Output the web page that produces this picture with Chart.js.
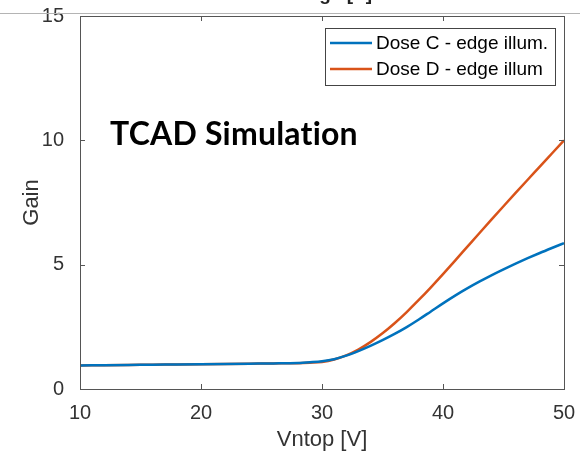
<!DOCTYPE html>
<html><head><meta charset="utf-8">
<script src="https://cdn.jsdelivr.net/npm/chart.js@4.4.1/dist/chart.umd.min.js"></script>
<style>html,body{margin:0;padding:0;background:#fff}#wrap{width:580px;height:452px}</style>
</head><body><div id="wrap"><canvas id="c" width="580" height="452"></canvas></div>
<script>
// ---- data ----
const vntop = [10,12,14,16,18,20,22,24,26,28,29,30,31,32,33,34,35,36,37,38,39,40,41,42,43,44,45,46,47,48,49,50];
const doseC = [0.95,0.96,0.97,0.98,0.99,1.00,1.01,1.02,1.03,1.05,1.08,1.12,1.20,1.34,1.525,1.735,1.965,2.215,2.49,2.795,3.12,3.445,3.755,4.045,4.315,4.57,4.81,5.04,5.26,5.47,5.67,5.865];
const doseD = [0.95,0.96,0.97,0.98,0.99,1.00,1.01,1.02,1.03,1.04,1.06,1.09,1.185,1.35,1.585,1.885,2.24,2.645,3.095,3.58,4.09,4.62,5.165,5.715,6.265,6.81,7.35,7.885,8.415,8.94,9.47,10.00];
const seriesNames = ['Dose C - edge illum.', 'Dose D - edge illum'];
const xTicks = [10,20,30,40,50];
const yTicks = [0,5,10,15];
const xTitle = 'Vntop [V]';
const yTitle = 'Gain';
const annotationText = 'TCAD Simulation';
const topTitle = 'Gain vs Voltage [V]';

const colors = ['#0072BD', '#D95319'];
const tickColor = '#333333';
const fam = '"Liberation Sans", Arial, sans-serif';

const frame = {
  id: 'frame',
  afterDraw(chart) {
    const ctx = chart.ctx, a = chart.chartArea;
    const xs = chart.scales.x, ys = chart.scales.y;
    ctx.save();
    // slide artefacts: cut-off title and a thin rule
    ctx.fillStyle = '#222';
    ctx.font = 'bold 19px ' + fam;
    ctx.textAlign = 'right'; ctx.textBaseline = 'alphabetic';
    ctx.fillText(topTitle, 372, 0);
    ctx.strokeStyle = '#b4b4b4'; ctx.lineWidth = 1;
    ctx.beginPath(); ctx.moveTo(0, 13.5); ctx.lineTo(chart.width, 13.5); ctx.stroke();
    // axes box
    ctx.strokeStyle = '#555'; ctx.lineWidth = 1;
    ctx.strokeRect(Math.round(a.left)+0.5, Math.round(a.top)+0.5, Math.round(a.right-a.left), Math.round(a.bottom-a.top));
    const tl = 5;
    ctx.beginPath();
    xs.ticks.forEach(t => {
      const px = Math.round(xs.getPixelForValue(t.value)) + 0.5;
      ctx.moveTo(px, a.bottom); ctx.lineTo(px, a.bottom - tl);
      ctx.moveTo(px, a.top); ctx.lineTo(px, a.top + tl);
    });
    ys.ticks.forEach(t => {
      const py = Math.round(ys.getPixelForValue(t.value)) + 0.5;
      ctx.moveTo(a.left, py); ctx.lineTo(a.left + tl, py);
      ctx.moveTo(a.right, py); ctx.lineTo(a.right - tl, py);
    });
    ctx.stroke();
    // annotation
    ctx.fillStyle = '#000';
    ctx.font = 'bold 32px Lato, "Open Sans", sans-serif';
    try { ctx.letterSpacing = '0.2px'; } catch (e) {}
    ctx.textAlign = 'left'; ctx.textBaseline = 'alphabetic';
    ctx.fillText(annotationText, 110, 145);
    try { ctx.letterSpacing = '0px'; } catch (e) {}
    // legend
    const lx = 325, ly = 28, lw = 230, lh = 57;
    ctx.fillStyle = '#fff';
    ctx.fillRect(lx, ly, lw, lh);
    ctx.strokeStyle = '#444'; ctx.lineWidth = 1;
    ctx.strokeRect(lx + 0.5, ly + 0.5, lw, lh);
    ctx.font = '19px ' + fam;
    ctx.textBaseline = 'middle';
    chart.data.datasets.forEach((ds, i) => {
      const y = ly + 15 + i * 26;
      ctx.strokeStyle = ds.borderColor; ctx.lineWidth = 2.5;
      ctx.beginPath(); ctx.moveTo(lx + 5, y); ctx.lineTo(lx + 47, y); ctx.stroke();
      ctx.fillStyle = '#000';
      ctx.fillText(ds.label, lx + 51, y + 1);
    });
    ctx.restore();
  }
};

const mk = (ys) => vntop.map((v, i) => ({x: v, y: ys[i]}));
const zeroPad = s => { s.paddingLeft = 0; s.paddingRight = 0; s.paddingTop = 0; s.paddingBottom = 0; };

new Chart(document.getElementById('c'), {
  type: 'line',
  data: {
    datasets: [
      {label: seriesNames[0], data: mk(doseC), borderColor: colors[0], borderWidth: 2.5, pointRadius: 0, cubicInterpolationMode: 'monotone', fill: false},
      {label: seriesNames[1], data: mk(doseD), borderColor: colors[1], borderWidth: 2.5, pointRadius: 0, cubicInterpolationMode: 'monotone', fill: false}
    ]
  },
  options: {
    responsive: false, animation: false, devicePixelRatio: 1,
    layout: {padding: {left: 0, right: 16, top: 16, bottom: 0}},
    plugins: {legend: {display: false}, tooltip: {enabled: false}, title: {display: false}},
    scales: {
      x: {
        type: 'linear', min: 10, max: 50,
        afterBuildTicks: s => { s.ticks = xTicks.map(v => ({value: v})); },
        afterFit: s => { s.height = 63; zeroPad(s); },
        grid: {display: false, drawTicks: false}, border: {display: false},
        ticks: {color: tickColor, font: {size: 20, family: fam}, padding: 12, maxRotation: 0},
        title: {display: true, text: xTitle, color: tickColor, font: {size: 22, family: fam, lineHeight: 1}, padding: {top: 0, bottom: 1}}
      },
      y: {
        type: 'linear', min: 0, max: 15,
        afterBuildTicks: s => { s.ticks = yTicks.map(v => ({value: v})); },
        afterFit: s => { s.width = 80; zeroPad(s); },
        grid: {display: false, drawTicks: false}, border: {display: false},
        ticks: {color: tickColor, font: {size: 20, family: fam}, padding: 16},
        title: {display: true, text: yTitle, color: tickColor, font: {size: 22, family: fam, lineHeight: 1}, padding: {top: 21, bottom: 0}}
      }
    }
  },
  plugins: [frame]
});
</script>
</body></html>
